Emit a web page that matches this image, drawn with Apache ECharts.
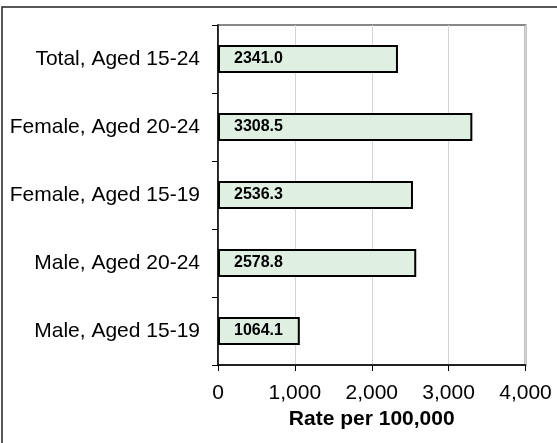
<!DOCTYPE html>
<html><head><meta charset="utf-8">
<script src="https://cdn.jsdelivr.net/npm/echarts@6/dist/echarts.min.js"></script>
<style>html,body{margin:0;padding:0;background:#fff}#c{width:557px;height:443px}</style>
</head><body><div id="c"></div>
<script>
var categories = ["Male, Aged 15-19", "Male, Aged 20-24", "Female, Aged 15-19", "Female, Aged 20-24", "Total, Aged 15-24"];
var values = [1064.1, 2578.8, 2536.3, 3308.5, 2341.0];
var xTicks = [0, 1000, 2000, 3000, 4000];

var chart = echarts.init(document.getElementById('c'), null, {renderer: 'canvas'});
chart.setOption({
  animation: false,
  backgroundColor: '#fff',
  graphic: [{
    type: 'rect', shape: {x: 2, y: 7, width: 600, height: 500},
    style: {fill: 'none', stroke: '#222', lineWidth: 1.5}, z: 0
  }],
  grid: {left: 218, right: 31.5, top: 25, bottom: 78, show: true, borderColor: '#888', borderWidth: 2, backgroundColor: 'transparent'},
  xAxis: {
    type: 'value', min: xTicks[0], max: xTicks[xTicks.length - 1], interval: 1000,
    name: 'Rate per 100,000', nameLocation: 'middle', nameGap: 34,
    nameTextStyle: {fontFamily: 'Liberation Sans', fontSize: 21, fontWeight: 'bold', color: '#000'},
    axisLine: {show: true, lineStyle: {color: '#000', width: 1.5}},
    axisTick: {show: true, length: 6, lineStyle: {color: '#000', width: 1}},
    axisLabel: {fontFamily: 'Liberation Sans', fontSize: 21, color: '#000', margin: 18,
      formatter: function (v) { return v.toLocaleString('en-US'); }},
    splitLine: {show: true, lineStyle: {color: '#d4d4d4', width: 1}}
  },
  yAxis: {
    type: 'category', data: categories,
    axisLine: {show: true, lineStyle: {color: '#000', width: 1.5}},
    axisTick: {show: true, length: 6, inside: false, lineStyle: {color: '#000', width: 1}},
    axisLabel: {fontFamily: 'Liberation Sans', fontSize: 21, color: '#000', margin: 18},
    splitLine: {show: false}
  },
  series: [{
    type: 'bar', data: values, barWidth: '41%',
    itemStyle: {color: '#dff0e3', borderColor: '#000', borderWidth: 2},
    label: {show: true, position: 'insideLeft', distance: 16,
      formatter: function (p) { return p.value.toFixed(1); },
      fontFamily: 'Liberation Sans', fontSize: 16, fontWeight: 'bold', color: '#000'}
  }]
});
</script></body></html>
